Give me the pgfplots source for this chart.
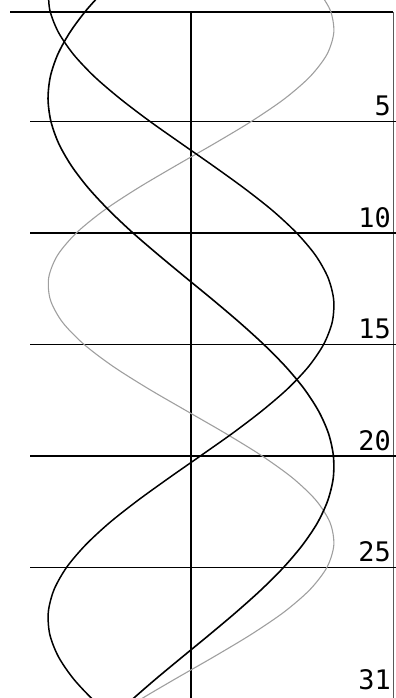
\documentclass[border=0pt]{standalone}
\usepackage{pgfplots}
\pgfplotsset{compat=1.18}
\usepackage{fontspec}
\newfontfamily\daysfont{DejaVu Sans Mono}

% Biorhythm cycles, value in percent (-100..100), day of month downwards
% physical (23 days)
\pgfplotstableread{
day val
-1 87.5
0 97.3
1 99.9
2 95.1
3 83.2
4 65.2
5 42.3
6 16.3
7 -10.9
8 -37.3
9 -61.0
10 -80.1
11 -93.3
12 -99.5
13 -98.4
14 -90.0
15 -74.9
16 -54.3
17 -29.6
18 -2.7
19 24.3
20 49.6
21 71.2
22 87.5
23 97.3
24 99.9
25 95.1
26 83.2
27 65.2
28 42.3
29 16.3
30 -10.9
31 -37.3
32 -61.0
}\physical
% emotional (28 days)
\pgfplotstableread{
day val
-1 -99.8
0 -98.8
1 -92.8
2 -82.2
3 -67.5
4 -49.3
5 -28.8
6 -6.7
7 15.6
8 37.2
9 57.0
10 73.8
11 87.0
12 95.8
13 99.8
14 98.8
15 92.8
16 82.2
17 67.5
18 49.3
19 28.8
20 6.7
21 -15.6
22 -37.2
23 -57.0
24 -73.8
25 -87.0
26 -95.8
27 -99.8
28 -98.8
29 -92.8
30 -82.2
31 -67.5
32 -49.3
}\emotional
% intellectual (33 days)
\pgfplotstableread{
day val
-1 -58.8
0 -73.0
1 -84.6
2 -93.2
3 -98.4
4 -100.0
5 -98.0
6 -92.5
7 -83.6
8 -71.7
9 -57.2
10 -40.7
11 -22.6
12 -3.8
13 15.2
14 33.6
15 50.8
16 66.2
17 79.2
18 89.3
19 96.2
20 99.6
21 99.5
22 95.7
23 88.5
24 78.0
25 64.8
26 49.2
27 31.8
28 13.3
29 -5.7
30 -24.5
31 -42.4
32 -58.8
}\intellectual

\begin{document}
\begin{tikzpicture}
\begin{axis}[
  scale only axis,
  width=396bp, height=698bp,
  xmin=-133.6, xmax=143.4,
  ymin=-0.44, ymax=30.86,
  y dir=reverse,
  axis line style={draw=none},
  ticks=none,
  clip=true,
]
% frame: top rule, right border, centre line
\addplot[black, line width=1.7pt] coordinates {(-126.6,0.1) (141.3,0.1)};
\addplot[gray!70!black, line width=1.2pt] coordinates {(141.6,0.1) (141.6,31)};
\addplot[black, line width=1.6pt] coordinates {(0,0.1) (0,31)};
% day rules
\addplot[black, line width=1.6pt] coordinates {(-112.6,5) (143.4,5)};
\addplot[black, line width=1.6pt] coordinates {(-112.6,10) (143.4,10)};
\addplot[black, line width=1.6pt] coordinates {(-112.6,15) (143.4,15)};
\addplot[black, line width=1.6pt] coordinates {(-112.6,20) (143.4,20)};
\addplot[black, line width=1.6pt] coordinates {(-112.6,25) (143.4,25)};
% cycles
\addplot[gray!75, line width=1.1pt, smooth] table[x=val, y=day] {\physical};
\addplot[black, line width=1.5pt, smooth] table[x=val, y=day] {\emotional};
\addplot[black, line width=1.6pt, smooth] table[x=val, y=day] {\intellectual};
% day labels
\foreach \d in {5,10,15,20,25}{
  \edef\temp{\noexpand\node[anchor=base east, inner sep=0pt, font=\noexpand\daysfont\noexpand\fontsize{27}{27}\noexpand\selectfont] at (axis cs:139.9,\d-0.25) {\d};}
  \temp
}
\node[anchor=base east, inner sep=0pt, font=\daysfont\fontsize{27}{27}\selectfont] at (axis cs:139.9,30.5) {31};
\end{axis}
\end{tikzpicture}
\end{document}
